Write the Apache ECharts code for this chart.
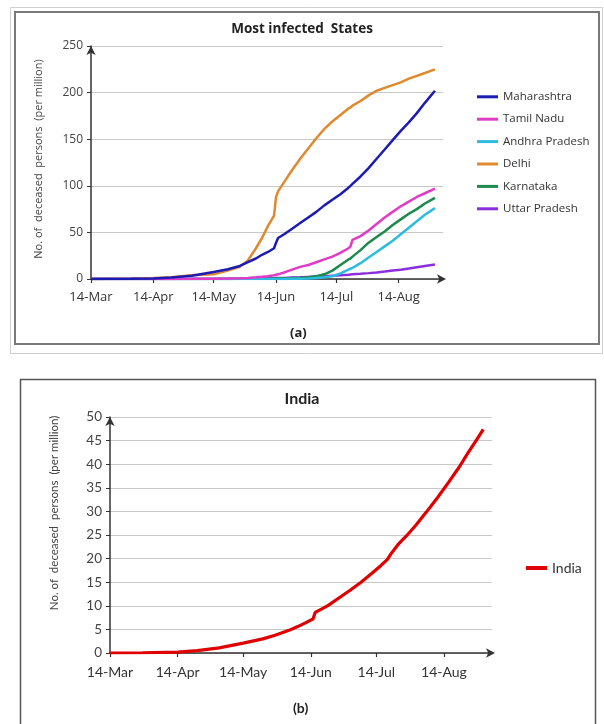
<!DOCTYPE html>
<html>
<head>
<meta charset="utf-8">
<script src="https://cdn.jsdelivr.net/npm/echarts@6/dist/echarts.min.js"></script>
<style>html,body{margin:0;padding:0;background:#fff}#c{width:604px;height:724px}</style>
</head>
<body>
<div id="c"></div>
<script>
// Days counted from 14-Mar
const stateDays = [0,20,31,40,50,61,68,74,78,82,85,88,91,92,93,96,100,104,108,112,116,120,124,128,129,130,134,138,142,146,150,154,158,162,166,171];
const maharashtra = [0,0.2,0.5,1.5,3.5,7.5,10.5,14,18,22,26,29,33,39,44,48,54,60,66,72,79,85,91,98,100,102,110,119,129,139,149,159,168,178,189,202];
const tamilNadu = [0,0,0,0.1,0.2,0.4,0.6,0.9,1.2,1.8,2.3,3,4,4.5,5,7,10,13,15,18,21,24,28,33,35,42,46,52,59,66,72,78,83,88,92,97];
const andhraPradesh = [0,0,0,0,0,0,0,0,0,0,0,0,0,0,0,0.1,0.2,0.3,0.6,1,1.8,3,6,10,11,12,17,23,29,35,41,48,55,62,69,76];
const delhi = [0,0.5,1,2,4,5,9,13,20,33,44,57,68,88,94,104,117,129,140,151,161,169,176,183,184,186,191,197,202,205,208,211,215,218,221,225];
const karnataka = [0,0,0,0,0,0.1,0.1,0.2,0.2,0.3,0.3,0.4,0.5,0.5,0.6,0.8,1,1.3,1.8,3,5,9,15,21,22,24,31,39,45,51,58,64,70,75,81,87];
const uttarPradesh = [0,0,0,0,0.1,0.2,0.3,0.4,0.5,0.6,0.7,0.8,0.9,1,1,1.2,1.5,1.8,2.2,2.6,3,3.5,4,4.6,4.8,5,5.6,6.3,7.1,8,9,10,11.3,12.7,14,15.5];

const indiaDays = [0,15,31,40,50,61,70,76,82,86,90,93,94,96,100,105,110,115,120,124,127,129,132,136,140,145,150,155,160,164,168,171];
const india = [0,0.05,0.2,0.5,1.1,2.1,3.0,3.8,4.8,5.6,6.5,7.2,8.6,9.1,10.1,11.7,13.3,15.0,16.9,18.5,19.8,21.2,23.0,24.9,27.0,29.9,32.9,36.1,39.4,42.4,45.2,47.4];

const tickDays = [0,31,61,92,122,153];
const tickLabels = ['14-Mar','14-Apr','14-May','14-Jun','14-Jul','14-Aug'];

const stateNames = ['Maharashtra','Tamil Nadu','Andhra Pradesh','Delhi','Karnataka','Uttar Pradesh'];
const stateValues = [maharashtra, tamilNadu, andhraPradesh, delhi, karnataka, uttarPradesh];
const stateColors = ['#1c1cb4','#e03cc8','#2cbce0','#e0892e','#1c8a4a','#8a2ee0'];

function pairs(days, vals){ return days.map((d,i)=>[d, vals[i]]); }

const chart = echarts.init(document.getElementById('c'), null, {renderer:'canvas'});

function xAx(gi, fs, ff){
  return {
    type:'value', gridIndex:gi, min:0, max:175,
    axisLine:{show:true, lineStyle:{color:'#333', width:1.5}, symbol:['none','arrow'], symbolSize:[7,9], symbolOffset:[0,3]},
    axisTick:{show:true, customValues:tickDays, length:4, lineStyle:{color:'#333', width:1.2}},
    axisLabel:{customValues:tickDays, formatter:v=>tickLabels[tickDays.indexOf(v)], fontSize:fs, fontFamily:ff, color:'#333', margin:12},
    splitLine:{show:false}
  };
}
function yAx(gi, max, iv, fs, ff, nameGap, nameFs, shift){
  return {
    type:'value', gridIndex:gi, min:0, max:max, interval:iv,
    name:'No. of  deceased  persons  (per million)', nameLocation:'middle', nameRotate:90, nameGap:nameGap,
    nameTextStyle:{fontSize:nameFs, fontFamily:ff, color:'#444', padding:[0,0,0,shift]},
    axisLine:{show:true, lineStyle:{color:'#333', width:1.5}, symbol:['none','arrow'], symbolSize:[7,9]},
    axisTick:{show:true, length:4, lineStyle:{color:'#333'}},
    axisLabel:{fontSize:fs, fontFamily:ff, color:'#444', margin:8},
    splitLine:{show:true, lineStyle:{color:'#c8c8c8', width:1}}
  };
}

const series = stateNames.map((n,i)=>({
  name:n, type:'line', xAxisIndex:0, yAxisIndex:0, data:pairs(stateDays, stateValues[i]),
  symbol:'none', lineStyle:{width:2.5, color:stateColors[i]}, itemStyle:{color:stateColors[i]}, z:10-i
}));
series.push({
  name:'India', type:'line', xAxisIndex:1, yAxisIndex:1, data:pairs(indiaDays, india),
  symbol:'none', lineStyle:{width:3.2, color:'#e00000'}, itemStyle:{color:'#e00000'}
});

chart.setOption({
  animation:false,
  backgroundColor:'#fff',
  title:[
    {text:'Most infected  States', left:'center', top:17, textStyle:{fontSize:13.5, fontWeight:'bold', fontFamily:'Open Sans', color:'#222'}},
    {text:'India', left:'center', top:386, textStyle:{fontSize:16, fontWeight:'bold', fontFamily:'Lato', color:'#222'}}
  ],
  graphic:[
    {type:'rect', shape:{x:10.5, y:7.5, width:592, height:346}, style:{fill:'none', stroke:'#cfcfcf', lineWidth:1}},
    {type:'rect', shape:{x:15, y:12, width:584, height:332}, style:{fill:'none', stroke:'#7a7a7a', lineWidth:2}},
    {type:'rect', shape:{x:20.5, y:379.5, width:575, height:360}, style:{fill:'none', stroke:'#555', lineWidth:1.5}},
    {type:'text', left:290, top:327, style:{text:'(a)', fontSize:13, fontWeight:'bold', fontFamily:'Open Sans', fill:'#222'}},
    {type:'text', left:293, top:701, style:{text:'(b)', fontSize:14, fontWeight:'bold', fontFamily:'Lato', fill:'#222'}}
  ],
  legend:[
    {orient:'vertical', left:477, top:89, padding:0, itemWidth:21, itemHeight:3, itemGap:6.8, icon:'rect',
     data:stateNames, selectedMode:false,
     textStyle:{fontSize:11.5, fontFamily:'Open Sans', color:'#333', lineHeight:15.6}},
    {orient:'vertical', left:526, top:560, padding:0, itemWidth:21, itemHeight:4, icon:'rect',
     data:['India'], selectedMode:false,
     textStyle:{fontSize:14, fontFamily:'Lato', color:'#333', lineHeight:16}}
  ],
  grid:[
    {left:91, top:46, right:161, bottom:445},
    {left:110, top:417, right:112, bottom:71}
  ],
  xAxis:[xAx(0, 13, 'Open Sans'), xAx(1, 14, 'Lato')],
  yAxis:[yAx(0, 250, 50, 12, 'Open Sans', 47, 11, 7), yAx(1, 50, 5, 13.5, 'Lato', 50, 11.5, 44)],
  series:series
});
</script>
</body>
</html>
